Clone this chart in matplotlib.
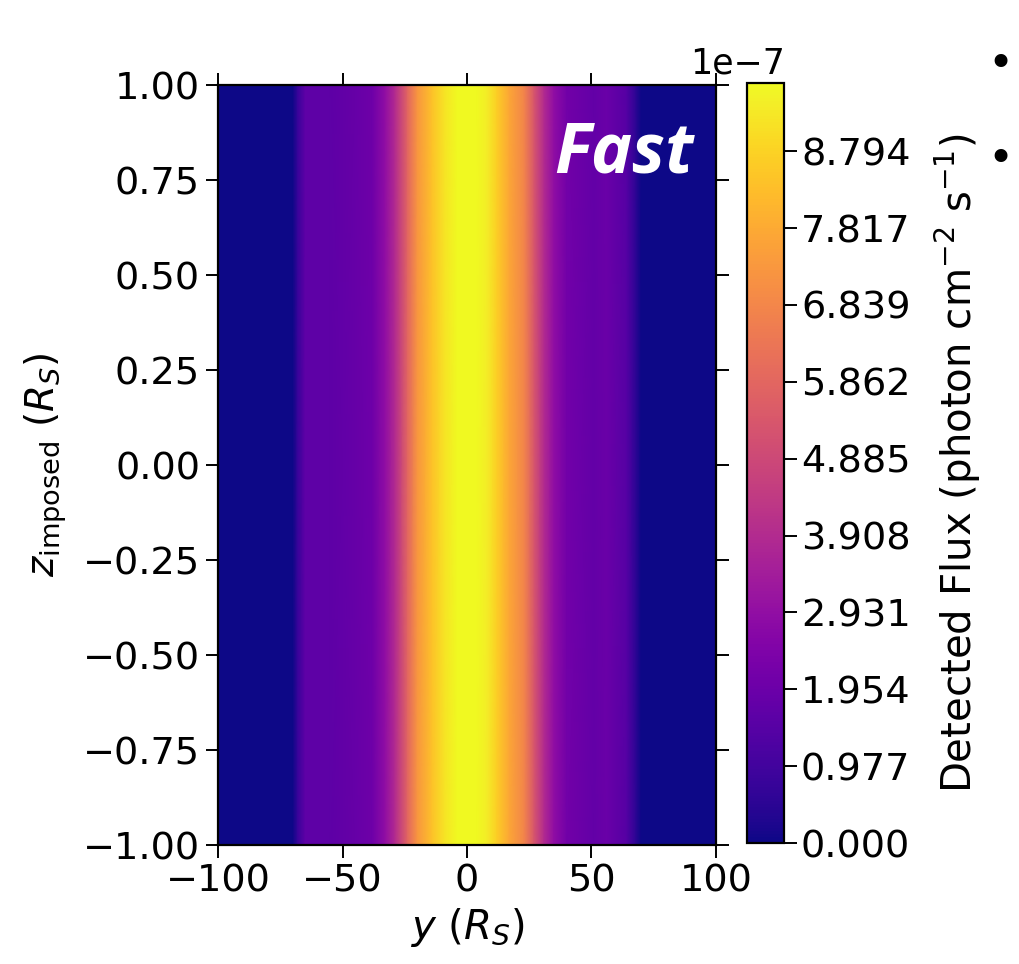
import numpy as np
from matplotlib import pyplot as plt

# flux profile across y (units of 1e-7 photon cm^-2 s^-1), same at every z
y_pos = [-100, -70, -68, -65, -55, -45, -38, -33, -29, -24, -20, -14, -9, -4,
         0, 4, 8, 12, 17, 23, 27, 31, 35, 40, 51, 56, 64, 68, 70, 100]
flux = [0.00, 0.00, 0.77, 1.64, 1.64, 1.84, 2.03, 2.90, 3.86, 5.80, 7.25, 8.40,
        9.18, 9.66, 9.66, 9.66, 9.37, 8.69, 7.73, 6.76, 5.31, 3.86, 2.90, 2.13,
        1.74, 1.93, 1.45, 0.48, 0.00, 0.00]
z_pos = [-1.0, 1.0]
cbar_ticks = [0.000, 0.977, 1.954, 2.931, 3.908, 4.885, 5.862, 6.839, 7.817, 8.794]
vmax = 9.66

plt.rcParams['font.size'] = 27
plt.rcParams['axes.linewidth'] = 1.6

fig = plt.figure(figsize=(10.19, 9.64), dpi=100)
ax = fig.add_axes([0.214, 0.1234, 0.4886, 0.7884])
cax = fig.add_axes([0.733, 0.1255, 0.036, 0.7884])

Y, Z = np.meshgrid(y_pos, z_pos)
F = np.tile(flux, (len(z_pos), 1))
mesh = ax.pcolormesh(Y, Z, F, cmap='plasma', shading='gouraud', vmin=0, vmax=vmax)

ax.set_xlim(-100, 100)
ax.set_ylim(-1, 1)
ax.set_xticks([-100, -50, 0, 50, 100])
ax.set_yticks(np.arange(-1, 1.01, 0.25))
ax.tick_params(direction='out', length=9, width=1.4, top=True, right=True,
               labelsize=27.5, pad=4)
ax.set_xlabel('$y$ ($R_S$)', fontsize=29, labelpad=5)
ax.set_ylabel(r'$z_{\rm imposed}$ ($R_S$)', fontsize=28, labelpad=10)

ax.text(0.955, 0.955, 'Fast', transform=ax.transAxes, ha='right', va='top',
        color='white', fontsize=50, fontweight='bold', fontstyle='italic',
        family='Open Sans')

cbar = fig.colorbar(mesh, cax=cax)
cbar.set_ticks(cbar_ticks)
cbar.set_ticklabels([f'{t:.3f}' for t in cbar_ticks])
cbar.ax.tick_params(direction='out', length=9, width=1.4, labelsize=27.5)
cbar.outline.set_linewidth(1.6)
cbar.set_label('Detected Flux (photon cm$^{-2}$ s$^{-1}$)', fontsize=29, labelpad=16)
cax.text(1.05, 1.003, '1e\u22127', transform=cax.transAxes, ha='right', va='bottom',
         fontsize=25)

# slide bullets at the right edge
fig.text(0.982, 0.933, '\u2022', ha='center', va='center', fontsize=32)
fig.text(0.982, 0.835, '\u2022', ha='center', va='center', fontsize=32)

plt.savefig('out.png', dpi=100)
